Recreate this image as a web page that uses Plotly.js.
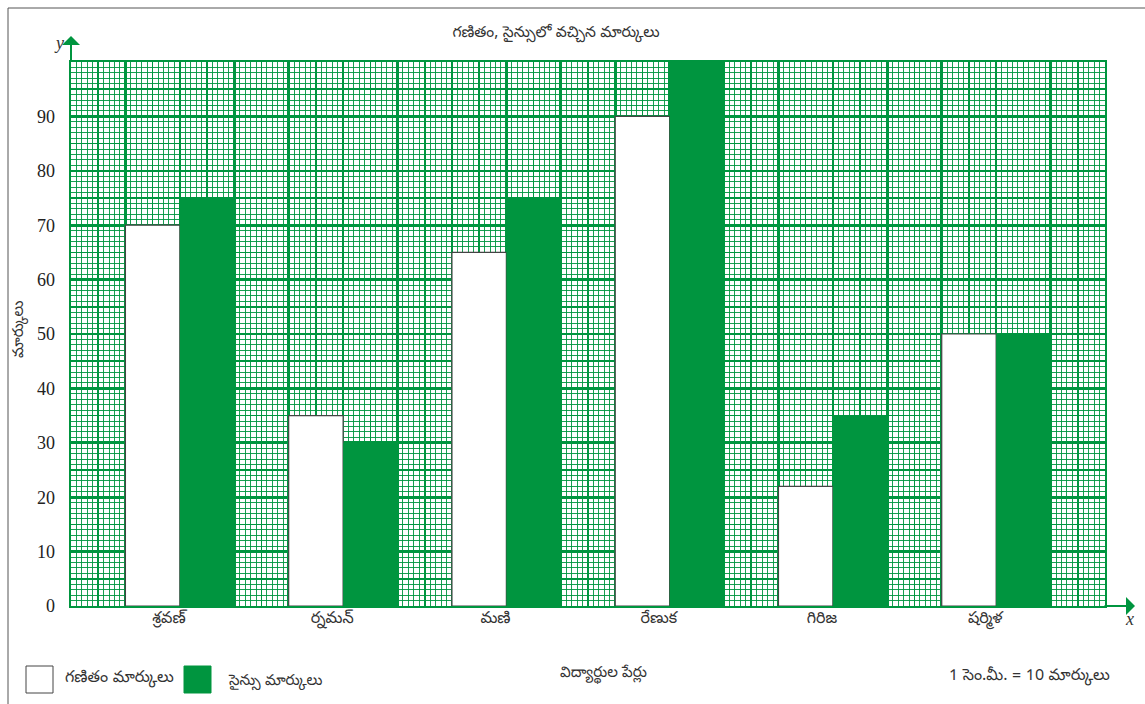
<!DOCTYPE html>
<html>
<head>
<meta charset="utf-8">
<script src="https://cdn.plot.ly/plotly-3.0.1.min.js"></script>
<style>html,body{margin:0;padding:0;background:#fff;}#chart{width:1145px;height:704px;}</style>
</head>
<body>
<div id="chart"></div>
<script>
// ---- data ----
var students = ["శ్రవణ్", "ర్నమన్", "మణి", "రేణుక", "గిరిజ", "షర్మిళ"];
var mathsMarks = [70, 35, 65, 90, 22, 50];
var scienceMarks = [75, 30, 75, 100, 35, 50];
var yTicks = [0, 10, 20, 30, 40, 50, 60, 70, 80, 90];
var chartTitle = "గణితం, సైన్సులో వచ్చిన మార్కులు";
var xTitle = "విద్యార్థుల పేర్లు";
var yTitle = "మార్కులు";
var mathsName = "గణితం మార్కులు";
var scienceName = "సైన్సు మార్కులు";
var scaleNote = "1 సెం.మీ. = 10 మార్కులు";

// ---- layout geometry ----
var W = 1145, H = 704;
var L = 71, R = 40, T = 62, B = 98;
var PW = W - L - R, PH = H - T - B;
function pxX(px) { return (px - L) / PW; }
function pxY(py) { return (H - B - py) / PH; }

var GREEN = "#00953f";
var GREEN_MINOR = "rgba(0,149,63,0.9)";
var TEL = "'Noto Sans Telugu', 'Noto Sans', 'DejaVu Sans', sans-serif";
var SERIF = "'Liberation Serif', 'DejaVu Serif', serif";

var groupW = 3; // cm per student group
var mathsX = students.map(function (s, i) { return i * groupW + 1.5; });
var sciX = students.map(function (s, i) { return i * groupW + 2.5; });
var labelX = students.map(function (s, i) { return i * groupW + 1.8; });

var traces = [
  { type: "bar", name: mathsName, x: mathsX, y: mathsMarks, width: 1,
    xaxis: "x", yaxis: "y",
    marker: { color: "#ffffff", line: { color: "#444", width: 1.2 } },
    showlegend: false, hoverinfo: "y" },
  { type: "bar", name: scienceName, x: sciX, y: scienceMarks, width: 1,
    xaxis: "x2", yaxis: "y2",
    marker: { color: GREEN, line: { color: GREEN, width: 0 } },
    showlegend: false, hoverinfo: "y" }
];

var layout = {
  width: W, height: H,
  margin: { l: L, r: R, t: T, b: B, pad: 0 },
  paper_bgcolor: "#ffffff", plot_bgcolor: "#ffffff",
  barmode: "overlay",
  showlegend: false,
  title: { text: chartTitle, font: { family: TEL, size: 15.5, color: "#333" },
    xref: "paper", x: pxX(556), xanchor: "center", yref: "container", y: 1 - 32 / H, yanchor: "middle" },
  // main x: 1 cm lines + 5 mm lines
  xaxis: {
    range: [0, 19], autorange: false, fixedrange: true,
    tickmode: "linear", tick0: 0, dtick: 1, showticklabels: false, ticks: "",
    showgrid: true, gridcolor: GREEN, gridwidth: 2.6, zeroline: false,
    showline: true, mirror: true, linecolor: GREEN, linewidth: 2.4,
    minor: { tickmode: "linear", tick0: 0, dtick: 0.5, showgrid: true, gridcolor: GREEN, gridwidth: 1.6, ticks: "" }
  },
  // overlay x: student labels + 1 mm lines
  xaxis2: {
    overlaying: "x", anchor: "y", side: "bottom",
    range: [0, 19], autorange: false, fixedrange: true,
    tickmode: "array", tickvals: labelX, ticktext: students, ticks: "",
    showgrid: false, zeroline: false, showline: false,
    tickfont: { family: TEL, size: 16, color: "#333" },
    minor: { tickmode: "linear", tick0: 0, dtick: 0.1, showgrid: true, gridcolor: GREEN_MINOR, gridwidth: 1, ticks: "" }
  },
  // main y: labels + 10-mark lines + 5-mark lines
  yaxis: {
    range: [0, 100], autorange: false, fixedrange: true,
    tickmode: "array", tickvals: yTicks, ticktext: yTicks.map(String),
    showgrid: true, gridcolor: GREEN, gridwidth: 2.6, zeroline: false,
    showline: true, mirror: true, linecolor: GREEN, linewidth: 2.4, ticks: "",
    ticklabelstandoff: 10,
    tickfont: { family: SERIF, size: 18, color: "#222" },
    minor: { tickmode: "linear", tick0: 0, dtick: 5, showgrid: true, gridcolor: GREEN, gridwidth: 1.6, ticks: "" }
  },
  // overlay y: 1-mark lines
  yaxis2: {
    overlaying: "y", anchor: "x", side: "left",
    range: [0, 100], autorange: false, fixedrange: true,
    tickmode: "linear", tick0: 0, dtick: 10, showticklabels: false, ticks: "",
    showgrid: false, zeroline: false, showline: false,
    minor: { tickmode: "linear", tick0: 0, dtick: 1, showgrid: true, gridcolor: GREEN_MINOR, gridwidth: 1, ticks: "" }
  },
  shapes: [
    { type: "rect", xref: "paper", yref: "paper", layer: "below",
      x0: pxX(8), x1: pxX(W + 20), y0: pxY(H + 20), y1: pxY(8),
      line: { color: "#555", width: 1 }, fillcolor: "rgba(0,0,0,0)" },
    { type: "rect", xref: "paper", yref: "paper",
      x0: pxX(26), x1: pxX(53), y0: pxY(693), y1: pxY(666),
      line: { color: "#444", width: 1 }, fillcolor: "#ffffff" },
    { type: "rect", xref: "paper", yref: "paper",
      x0: pxX(184), x1: pxX(211), y0: pxY(693), y1: pxY(666),
      line: { color: GREEN, width: 1 }, fillcolor: GREEN }
  ],
  annotations: [
    // axis arrows
    { xref: "paper", yref: "paper", x: 0, y: pxY(36), ax: 0, ay: 27, text: "",
      showarrow: true, arrowhead: 1, arrowsize: 1.5, arrowwidth: 2, arrowcolor: GREEN },
    { xref: "paper", yref: "paper", x: pxX(1135), y: 0, ax: -32, ay: 0, text: "",
      showarrow: true, arrowhead: 1, arrowsize: 1.5, arrowwidth: 2, arrowcolor: GREEN },
    { xref: "paper", yref: "paper", x: pxX(59), y: pxY(43), text: "<i>y</i>", showarrow: false,
      xanchor: "center", yanchor: "middle", font: { family: SERIF, size: 18, color: "#333" } },
    { xref: "paper", yref: "paper", x: pxX(1129), y: pxY(619), text: "<i>x</i>", showarrow: false,
      xanchor: "center", yanchor: "middle", font: { family: SERIF, size: 18, color: "#333" } },
    // axis titles
    { xref: "paper", yref: "paper", x: pxX(603), y: pxY(674), text: xTitle, showarrow: false,
      xanchor: "center", yanchor: "middle", font: { family: TEL, size: 15, color: "#333" } },
    { xref: "paper", yref: "paper", x: pxX(20), y: pxY(330), text: yTitle, showarrow: false, textangle: -90,
      xanchor: "center", yanchor: "middle", font: { family: TEL, size: 15, color: "#333" } },
    // legend texts
    { xref: "paper", yref: "paper", x: pxX(63), y: pxY(679), text: mathsName, showarrow: false,
      xanchor: "left", yanchor: "middle", font: { family: TEL, size: 16, color: "#333" } },
    { xref: "paper", yref: "paper", x: pxX(226), y: pxY(682), text: scienceName, showarrow: false,
      xanchor: "left", yanchor: "middle", font: { family: TEL, size: 15, color: "#333" } },
    // scale note
    { xref: "paper", yref: "paper", x: pxX(1112), y: pxY(677), text: scaleNote, showarrow: false,
      xanchor: "right", yanchor: "middle", font: { family: TEL, size: 16, color: "#333" } }
  ]
};

Plotly.newPlot("chart", traces, layout, { displayModeBar: false, staticPlot: true });
</script>
</body>
</html>
